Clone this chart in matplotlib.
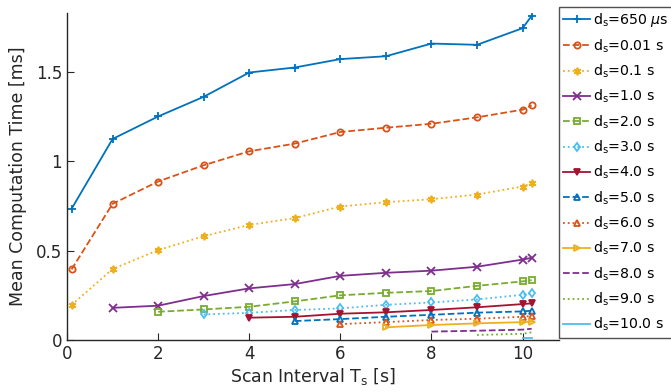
import numpy as np
import matplotlib.pyplot as plt

# scan intervals (first point at 0.1, last extra point at 10.2)
scan_t = [0.1, 1, 2, 3, 4, 5, 6, 7, 8, 9, 10, 10.2]

labels = [r'd$_\mathrm{s}$=650 $\mu$s', r'd$_\mathrm{s}$=0.01 s', r'd$_\mathrm{s}$=0.1 s',
          r'd$_\mathrm{s}$=1.0 s', r'd$_\mathrm{s}$=2.0 s', r'd$_\mathrm{s}$=3.0 s',
          r'd$_\mathrm{s}$=4.0 s', r'd$_\mathrm{s}$=5.0 s', r'd$_\mathrm{s}$=6.0 s',
          r'd$_\mathrm{s}$=7.0 s', r'd$_\mathrm{s}$=8.0 s', r'd$_\mathrm{s}$=9.0 s',
          r'd$_\mathrm{s}$=10.0 s']

# mean computation time [ms]; series start at the first scan interval >= d_s
ds_650us = [0.734, 1.125, 1.251, 1.361, 1.497, 1.525, 1.572, 1.588, 1.659, 1.652, 1.745, 1.814]
ds_001 = [0.395, 0.762, 0.887, 0.978, 1.056, 1.099, 1.164, 1.188, 1.210, 1.246, 1.289, 1.313]
ds_01 = [0.196, 0.397, 0.503, 0.581, 0.644, 0.682, 0.747, 0.771, 0.788, 0.814, 0.859, 0.877]
ds_1 = [0.180, 0.192, 0.246, 0.289, 0.313, 0.359, 0.376, 0.388, 0.410, 0.450, 0.460]
ds_2 = [0.158, 0.171, 0.186, 0.216, 0.250, 0.264, 0.274, 0.303, 0.328, 0.335]
ds_3 = [0.143, 0.152, 0.168, 0.177, 0.197, 0.210, 0.227, 0.253, 0.261]
ds_4 = [0.125, 0.130, 0.147, 0.155, 0.168, 0.183, 0.201, 0.205]
ds_5 = [0.106, 0.117, 0.130, 0.141, 0.153, 0.160, 0.164]
ds_6 = [0.089, 0.100, 0.112, 0.119, 0.130, 0.135]
ds_7 = [0.071, 0.084, 0.093, 0.100, 0.103]
ds_8 = [0.047, 0.052, 0.058, 0.063]
ds_9 = [0.028, 0.035, 0.043]
ds_10 = [0.009, 0.009]

series = [ds_650us, ds_001, ds_01, ds_1, ds_2, ds_3, ds_4, ds_5, ds_6, ds_7, ds_8, ds_9, ds_10]

colors = ['#0072BD', '#D95319', '#EDB120', '#7E2F8E', '#77AC30', '#4DBEEE', '#A2142F',
          '#0072BD', '#D95319', '#EDB120', '#7E2F8E', '#77AC30', '#4DBEEE']
styles = ['-', '--', ':', '-', '--', ':', '-', '--', ':', '-', '--', ':', '-']
markers = ['+', 'o', (6, 2, 0), 'x', 's', 'd', 'v', '^', '^', '>', 'None', 'None', 'None']

fig = plt.figure(figsize=(6.71, 3.92), dpi=100)
ax = fig.add_axes([67 / 671, 1 - 340 / 392, (559 - 67) / 671, (340 - 13) / 392])

for vals, lab, c, ls, m in zip(series, labels, colors, styles, markers):
    x = scan_t[len(scan_t) - len(vals):]
    ms = 5.5 if m in ('+', 'x', (6, 2, 0)) else 4.5
    ax.plot(x, vals, color=c, linestyle=ls, marker=m, markersize=ms, lw=1.3,
            markerfacecolor='none' if m not in ('v', (6, 2, 0)) else c, markeredgewidth=1.3,
            label=lab)

ax.set_xlim(0, 10.8)
ax.set_ylim(0, 1.83)
ax.set_xticks([0, 2, 4, 6, 8, 10])
ax.set_yticks([0, 0.5, 1, 1.5])
ax.set_yticklabels(['0', '0.5', '1', '1.5'])
ax.tick_params(direction='in', labelsize=12, colors='#262626', length=5, width=0.8)
for s in ['top', 'right']:
    ax.spines[s].set_visible(False)
for s in ['left', 'bottom']:
    ax.spines[s].set_color('#262626')
    ax.spines[s].set_linewidth(1.0)

ax.set_xlabel(r'Scan Interval T$_\mathrm{s}$ [s]', fontsize=12.5, color='#262626', labelpad=2)
ax.set_ylabel('Mean Computation Time [ms]', fontsize=12.5, color='#262626', labelpad=6)

leg = fig.legend(loc='upper left', bbox_to_anchor=(559 / 671, 1 - 7 / 392), fontsize=10.2,
                 frameon=True, fancybox=False, handlelength=1.9, handletextpad=0.2,
                 labelspacing=0.56, borderpad=0.3, borderaxespad=0)
leg.get_frame().set_edgecolor('#262626')
leg.get_frame().set_linewidth(1.0)

fig.savefig('out.png', dpi=100)
